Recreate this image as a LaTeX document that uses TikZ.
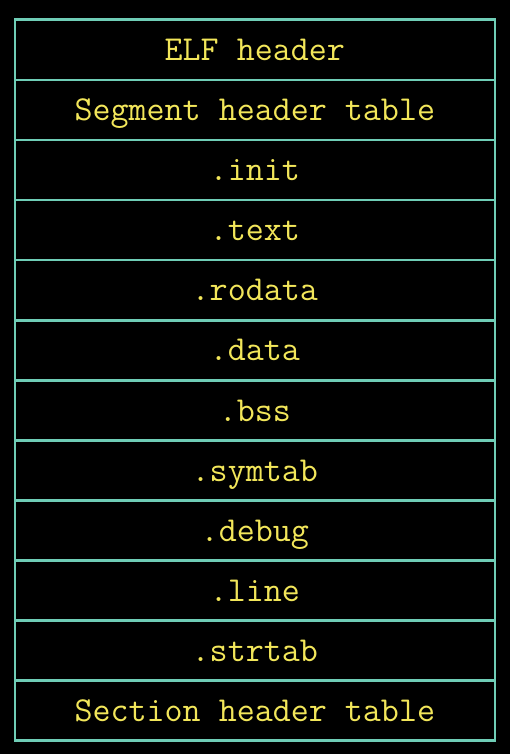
\documentclass[tikz,border=0pt]{standalone}
\definecolor{rowtext}{HTML}{F2E65A}
\definecolor{rowline}{HTML}{6FCDB6}
\begin{document}
\begin{tikzpicture}[x=1pt,y=1pt,
  cell/.style={draw=rowline, line width=2.6pt, fill=black, text=rowtext,
    minimum width=480pt, minimum height=60.08pt, inner sep=0pt,
    text height=21.4pt, text depth=0pt,
    font=\fontsize{35}{38}\selectfont\ttfamily, anchor=north west}]
\fill[black] (0,0) rectangle (510,-754);
\useasboundingbox (0,0) rectangle (510,-754);
\foreach \lbl [count=\i from 0] in {ELF header, Segment header table, .init, .text, .rodata, .data, .bss, .symtab, .debug, .line, .strtab, Section header table}{
  \node[cell] (row\i) at (13.5,{-18.5-60.08*\i}) {\lbl};
}
\end{tikzpicture}
\end{document}
